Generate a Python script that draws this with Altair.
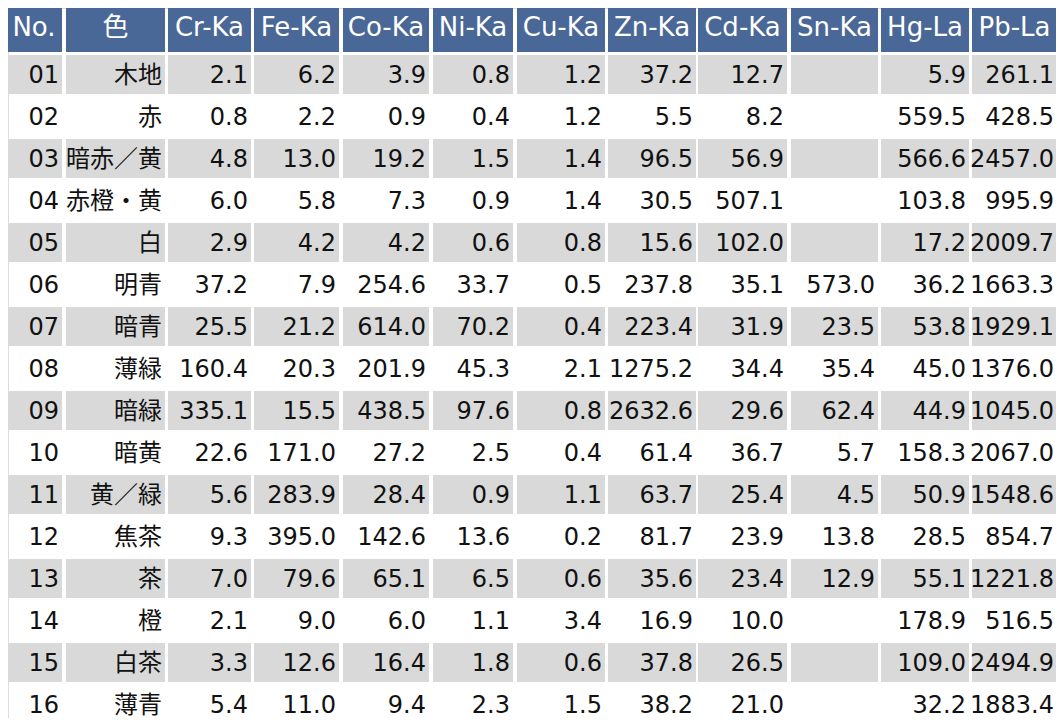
import altair as alt
import pandas as pd

# ---------------- data ----------------
COLUMNS = ["No.", "色", "Cr-Ka", "Fe-Ka", "Co-Ka", "Ni-Ka", "Cu-Ka",
           "Zn-Ka", "Cd-Ka", "Sn-Ka", "Hg-La", "Pb-La"]
NOS = ["01", "02", "03", "04", "05", "06", "07", "08",
       "09", "10", "11", "12", "13", "14", "15", "16"]
COLOR_NAMES = ["木地", "赤", "暗赤／黄", "赤橙・黄", "白", "明青", "暗青", "薄緑",
               "暗緑", "暗黄", "黄／緑", "焦茶", "茶", "橙", "白茶", "薄青"]
CR = [2.1, 0.8, 4.8, 6.0, 2.9, 37.2, 25.5, 160.4, 335.1, 22.6, 5.6, 9.3, 7.0, 2.1, 3.3, 5.4]
FE = [6.2, 2.2, 13.0, 5.8, 4.2, 7.9, 21.2, 20.3, 15.5, 171.0, 283.9, 395.0, 79.6, 9.0, 12.6, 11.0]
CO = [3.9, 0.9, 19.2, 7.3, 4.2, 254.6, 614.0, 201.9, 438.5, 27.2, 28.4, 142.6, 65.1, 6.0, 16.4, 9.4]
NI = [0.8, 0.4, 1.5, 0.9, 0.6, 33.7, 70.2, 45.3, 97.6, 2.5, 0.9, 13.6, 6.5, 1.1, 1.8, 2.3]
CU = [1.2, 1.2, 1.4, 1.4, 0.8, 0.5, 0.4, 2.1, 0.8, 0.4, 1.1, 0.2, 0.6, 3.4, 0.6, 1.5]
ZN = [37.2, 5.5, 96.5, 30.5, 15.6, 237.8, 223.4, 1275.2, 2632.6, 61.4, 63.7, 81.7, 35.6, 16.9, 37.8, 38.2]
CD = [12.7, 8.2, 56.9, 507.1, 102.0, 35.1, 31.9, 34.4, 29.6, 36.7, 25.4, 23.9, 23.4, 10.0, 26.5, 21.0]
SN = [None, None, None, None, None, 573.0, 23.5, 35.4, 62.4, 5.7, 4.5, 13.8, 12.9, None, None, None]
HG = [5.9, 559.5, 566.6, 103.8, 17.2, 36.2, 53.8, 45.0, 44.9, 158.3, 50.9, 28.5, 55.1, 178.9, 109.0, 32.2]
PB = [261.1, 428.5, 2457.0, 995.9, 2009.7, 1663.3, 1929.1, 1376.0, 1045.0, 2067.0, 1548.6, 854.7, 1221.8, 516.5, 2494.9, 1883.4]

# ---------------- layout (table geometry, in table units) ----------------
COL_LEFT = [6, 66, 168, 254, 343, 433, 517, 608, 698, 791, 881, 972]
COL_RIGHT = [62, 165, 251, 339, 429, 513, 605, 696, 787, 878, 969, 1057]
HEAD_TOP, HEAD_BOTTOM = 5, 52
ROW_TOP0, ROW_STEP, ROW_H = 55, 42, 39
PAD_R = 3
HEADER_BG = "#4a6897"
STRIPE_BG = "#d9d9d9"
FONT = "DejaVu Sans, Noto Sans CJK JP, sans-serif"
FS_BODY = 24
FS_HEAD = 26

def fmt(v):
    return "" if v is None else f"{v:.1f}"

value_cols = [CR, FE, CO, NI, CU, ZN, CD, SN, HG, PB]

header_rows, stripe_rows, cell_rows = [], [], []
for c, name in enumerate(COLUMNS):
    header_rows.append(dict(x=COL_LEFT[c], x2=COL_RIGHT[c], y=HEAD_TOP, y2=HEAD_BOTTOM,
                            xc=(COL_LEFT[c] + COL_RIGHT[c]) / 2,
                            yc=27.5, text=name))

for r in range(len(NOS)):
    top = ROW_TOP0 + r * ROW_STEP
    if r % 2 == 0:
        for c in range(len(COLUMNS)):
            stripe_rows.append(dict(x=COL_LEFT[c], x2=COL_RIGHT[c], y=top, y2=top + ROW_H))
    texts = [NOS[r], COLOR_NAMES[r]] + [fmt(col[r]) for col in value_cols]
    for c, t in enumerate(texts):
        cell_rows.append(dict(xr=COL_RIGHT[c] - PAD_R, yc=top + 20.5, text=t))

hdr = pd.DataFrame(header_rows)
stp = pd.DataFrame(stripe_rows)
cel = pd.DataFrame(cell_rows)

W, H = 1048, 710
xs = alt.Scale(domain=[8, 8 + W], nice=False, zero=False)
ys = alt.Scale(domain=[8, 8 + H], nice=False, zero=False, reverse=True)

header_rect = alt.Chart(hdr).mark_rect(color=HEADER_BG).encode(
    x=alt.X("x:Q", scale=xs, axis=None), x2="x2:Q",
    y=alt.Y("y:Q", scale=ys, axis=None), y2="y2:Q")

stripe_rect = alt.Chart(stp).mark_rect(color=STRIPE_BG).encode(
    x=alt.X("x:Q", scale=xs, axis=None), x2="x2:Q",
    y=alt.Y("y:Q", scale=ys, axis=None), y2="y2:Q")

header_text = alt.Chart(hdr).mark_text(
    font=FONT, fontSize=FS_HEAD, color="white", align="center", baseline="middle"
).encode(
    x=alt.X("xc:Q", scale=xs, axis=None),
    y=alt.Y("yc:Q", scale=ys, axis=None),
    text="text:N")

cell_text = alt.Chart(cel).mark_text(
    font=FONT, fontSize=FS_BODY, color="#111111", align="right", baseline="middle"
).encode(
    x=alt.X("xr:Q", scale=xs, axis=None),
    y=alt.Y("yc:Q", scale=ys, axis=None),
    text="text:N")

chart = alt.layer(header_rect, stripe_rect, header_text, cell_text).properties(
    width=W, height=H,
    autosize=alt.AutoSizeParams(type="none"),
    padding=0,
).configure_view(stroke=None).configure(background="white")

chart.save("out.html", embed_options={"renderer": "svg", "actions": False})
